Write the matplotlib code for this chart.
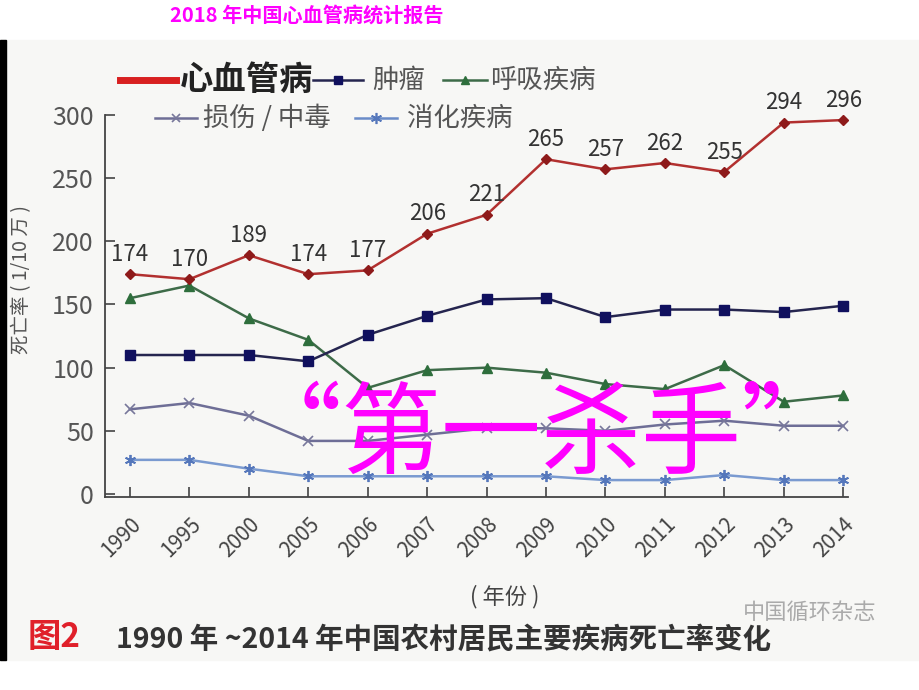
import matplotlib
matplotlib.use("Agg")
import matplotlib.pyplot as plt
from matplotlib.lines import Line2D
from matplotlib.patches import Rectangle

plt.rcParams['font.family'] = ['Noto Sans CJK SC', 'DejaVu Sans']

# data (deaths per 100k)
years = ['1990', '1995', '2000', '2005', '2006', '2007', '2008',
         '2009', '2010', '2011', '2012', '2013', '2014']
cardio = [174, 170, 189, 174, 177, 206, 221, 265, 257, 262, 255, 294, 296]
tumor = [110, 110, 110, 105, 126, 141, 154, 155, 140, 146, 146, 144, 149]
resp = [155, 165, 139, 122, 84, 98, 100, 96, 87, 83, 102, 73, 78]
injury = [67, 72, 62, 42, 42, 47, 52, 52, 50, 55, 58, 54, 54]
digest = [27, 27, 20, 14, 14, 14, 14, 14, 11, 11, 15, 11, 11]
yticks = [0, 50, 100, 150, 200, 250, 300]

W, H = 920, 690
fig = plt.figure(figsize=(9.2, 6.9), dpi=100)
fig.patch.set_facecolor('white')


def fx(px):
    return px / W


def fy(py):
    return 1 - py / H


# embedded picture background + left black strip
fig.add_artist(Rectangle((fx(0), fy(660)), 1, 620 / H, transform=fig.transFigure,
                         color='#f7f7f5', zorder=0))
fig.add_artist(Rectangle((fx(0), fy(660)), fx(6), 620 / H, transform=fig.transFigure,
                         color='black', zorder=0))

ax = fig.add_axes([fx(105), fy(497), fx(848 - 105), (497 - 115) / H])
ax.set_facecolor('none')
x = list(range(len(years)))

ax.plot(x, digest, color='#7a9ad0', lw=1.8, marker=(6, 2, 0), ms=8, mec='#5577bb', mew=1.3, clip_on=False)
ax.plot(x, injury, color='#6e6e96', lw=1.8, marker='x', ms=7, mec='#77779a', mew=1.2, clip_on=False)
ax.plot(x, resp, color='#3d6b48', lw=1.8, marker='^', ms=7, mfc='#2e6e3c', mec='#2e6e3c', clip_on=False)
ax.plot(x, tumor, color='#25254f', lw=1.8, marker='s', ms=7, mfc='#10105e', mec='#10105e', clip_on=False)
ax.plot(x, cardio, color='#b2302f', lw=1.8, marker='D', ms=5, mfc='#8e1a1a', mec='#8e1a1a', clip_on=False)

for i, v in enumerate(cardio):
    ax.annotate(str(v), (i, v), xytext=(0, 6), textcoords='offset points',
                ha='center', va='bottom', fontsize=16, color='#333333')

ax.set_xlim(-0.42, 12.08)
ax.set_ylim(-2.4, 300)
ax.set_yticks(yticks)
ax.set_yticklabels([str(t) for t in yticks], fontsize=18, color='#555555')
ax.set_xticks(x)
ax.set_xticklabels(years, rotation=45, ha='right', rotation_mode='anchor',
                   fontsize=15, color='#444444')
ax.tick_params(axis='both', direction='in', length=7, width=1.2, color='#444444', pad=8)
ax.tick_params(axis='x', pad=12)
for s in ['top', 'right']:
    ax.spines[s].set_visible(False)
for s in ['left', 'bottom']:
    ax.spines[s].set_color('#444444')
    ax.spines[s].set_linewidth(1.3)

# axis titles
fig.text(fx(22), fy(280), '死亡率 ( 1/10 万 )', rotation=90, ha='center', va='center',
         fontsize=14, color='#555555')
fig.text(fx(505), fy(597), '( 年份 )', ha='center', va='center', fontsize=16, color='#444444')


# legend drawn by hand
def leg(x0, x1, y, color, lw, marker, text, tx, size, weight='normal', tcolor='#555555', **mk):
    fig.add_artist(Line2D([fx(x0), fx(x1)], [fy(y), fy(y)], color=color, lw=lw,
                          transform=fig.transFigure))
    if marker:
        fig.add_artist(Line2D([fx((x0 + x1) / 2)], [fy(y)], marker=marker, color=color,
                              transform=fig.transFigure, **mk))
    fig.text(fx(tx), fy(y), text, ha='left', va='center', fontsize=size,
             fontweight=weight, color=tcolor)


leg(120, 176, 80, '#d82020', 5, None, '心血管病', 180, 24, 'bold', '#222222')
leg(313, 363, 80, '#25254f', 1.8, 's', '肿瘤', 372, 19, ms=6, mfc='#10105e', mec='#10105e')
leg(443, 487, 80, '#3d6b48', 1.8, '^', '呼吸疾病', 490, 19, ms=6, mfc='#2e6e3c', mec='#2e6e3c')
leg(155, 197, 118, '#6e6e96', 1.8, 'x', '损伤 / 中毒', 203, 19, ms=6, mec='#77779a', mew=1.2)
leg(355, 397, 118, '#6a8cc8', 1.8, (6, 2, 0), '消化疾病', 407, 19, ms=8, mec='#5577bb', mew=1.2)

# slide title, overlay and caption
fig.text(fx(170), fy(16), '2018 年中国心血管病统计报告', ha='left', va='center',
         fontsize=14.5, fontweight='bold', color='#ff00ff')
fig.text(fx(542), fy(437), '“第一杀手”', ha='center', va='center',
         fontsize=72, fontweight='light', color='#ff00ff', zorder=10)
fig.text(fx(810), fy(612), '中国循环杂志', ha='center', va='center',
         fontsize=16, color='#aaaaaa')
fig.text(fx(28), fy(638), '图2', ha='left', va='center', fontsize=24,
         fontweight='bold', color='#e0202a')
fig.text(fx(116), fy(640), '1990 年 ~2014 年中国农村居民主要疾病死亡率变化', ha='left',
         va='center', fontsize=20.5, fontweight='bold', color='#333333')

fig.savefig('out.png', dpi=100, facecolor=fig.get_facecolor())
